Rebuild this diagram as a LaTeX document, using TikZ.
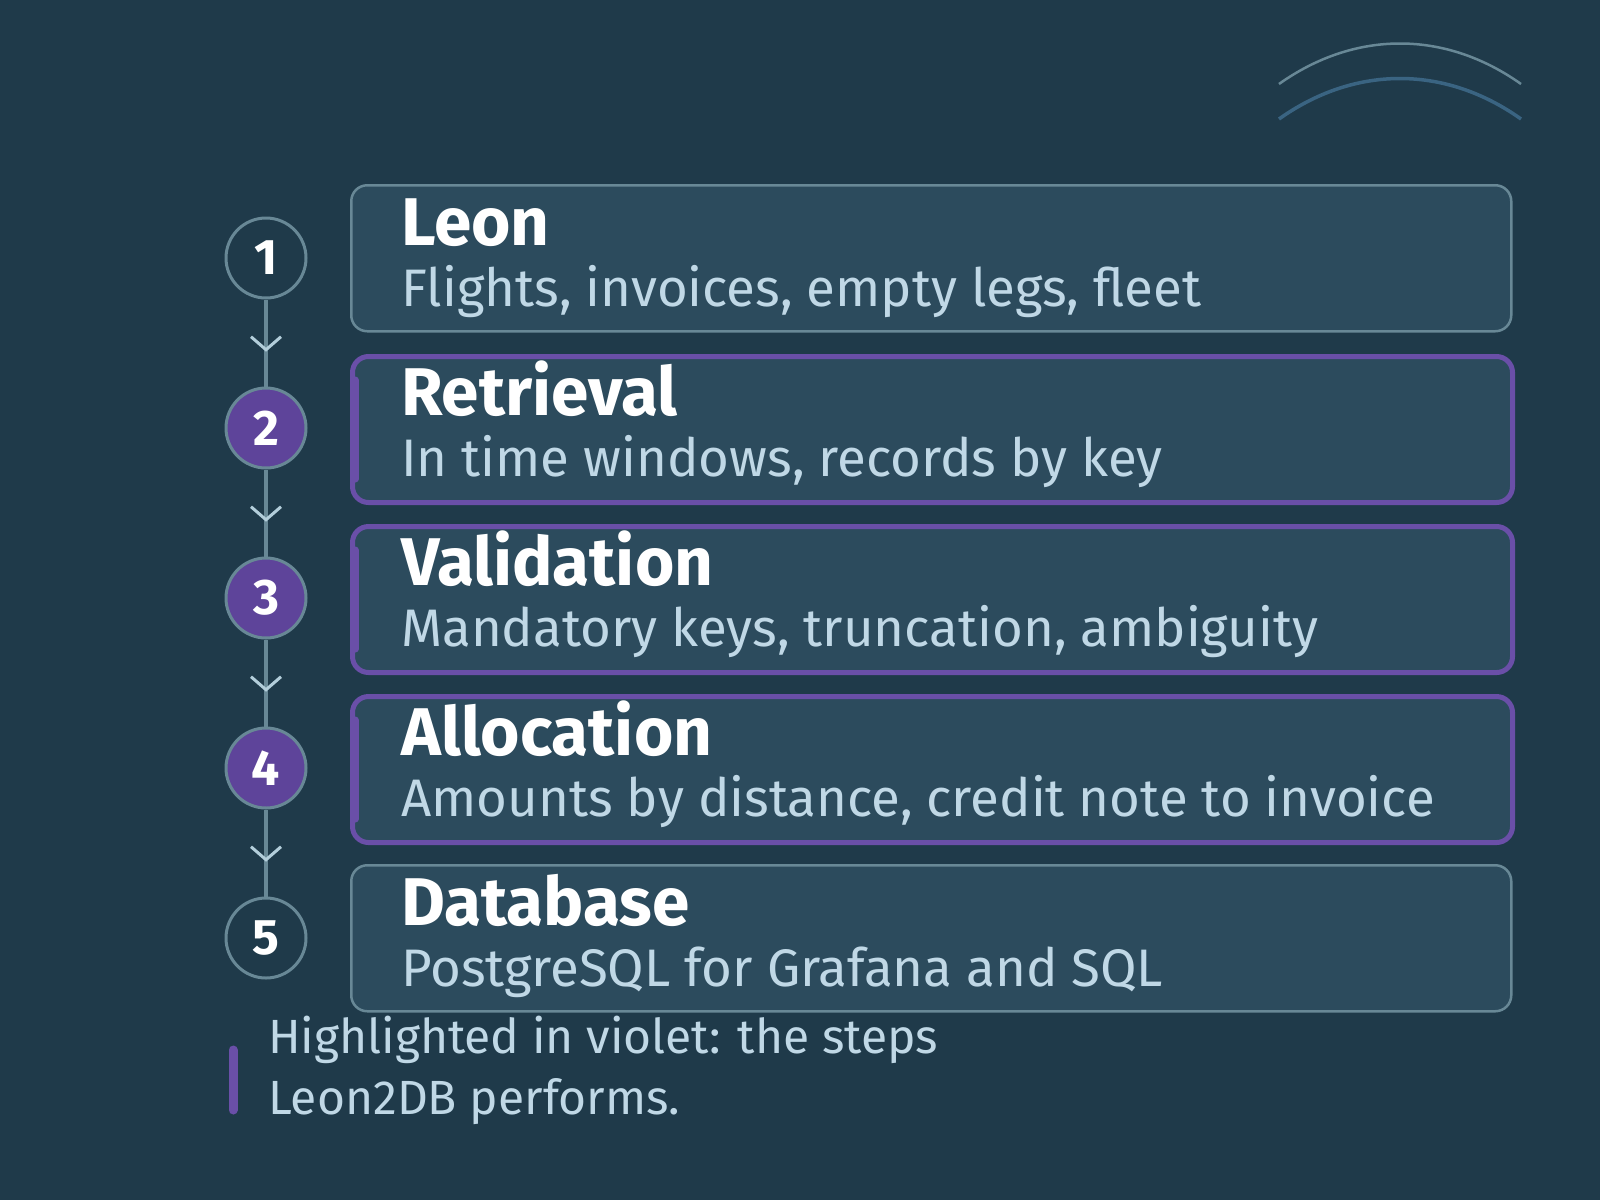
\documentclass[tikz,border=0pt]{standalone}
\usepackage{fontspec}
\setmainfont{Fira Sans}
\usepackage{tikz}
\usetikzlibrary{arrows.meta, positioning, decorations.markings}

\definecolor{bgcol}{HTML}{1F3A4A}
\definecolor{boxfill}{HTML}{2C4B5D}
\definecolor{boxline}{HTML}{688896}
\definecolor{violetline}{HTML}{6A4FA8}
\definecolor{violetfill}{HTML}{5E449A}
\definecolor{subtext}{HTML}{C0D8E6}
\definecolor{chev}{HTML}{B3CEDB}
\definecolor{arcblue}{HTML}{3A6482}

\begin{document}
\begin{tikzpicture}[
    x=1pt, y=-1pt,
    stepbox/.style={rectangle, rounded corners=16pt, draw=boxline, fill=boxfill, line width=2.5pt, minimum width=1160pt, minimum height=146pt, anchor=north west},
    ownbox/.style={stepbox, draw=violetline, line width=5pt},
    stepnum/.style={circle, draw=boxline, fill=bgcol, line width=3pt, minimum size=80pt, inner sep=0pt, text=white, font=\fontsize{50}{60}\selectfont\bfseries},
    ownnum/.style={stepnum, fill=violetfill},
    steptitle/.style={anchor=base west, inner sep=0pt, text=white, font=\fontsize{67.5}{78}\selectfont\bfseries},
    stepsub/.style={anchor=base west, inner sep=0pt, text=subtext, font=\fontsize{52.8}{64}\selectfont},
    link/.style={draw=boxline, line width=3.5pt, postaction={decorate}, decoration={markings, mark=at position 0.6 with {\arrow[chev]{Straight Barb[length=13pt, width=30pt, line width=3pt]}}}},
    accent/.style={violetline, line width=7pt, line cap=round}
]

% Background
\fill[bgcol] (0,0) rectangle (1600,1200);
\useasboundingbox (0,0) rectangle (1600,1200);

% Arcs top right
\draw[boxline, line width=2.5pt] (1279,84) .. controls (1355,30) and (1445,30) .. (1521,84);
\draw[arcblue, line width=3.5pt] (1279,119) .. controls (1355,65) and (1445,65) .. (1521,119);

% Boxes
\node[stepbox] (b1) at (350,184) {};
\node[ownbox] (b2) at (350,354) {};
\node[ownbox] (b3) at (350,524) {};
\node[ownbox] (b4) at (350,694) {};
\node[stepbox] (b5) at (350,864) {};

% Accent bars
\draw[accent] ([shift={(5,26)}]b2.north west) -- ([shift={(5,-26)}]b2.south west);
\draw[accent] ([shift={(5,26)}]b3.north west) -- ([shift={(5,-26)}]b3.south west);
\draw[accent] ([shift={(5,26)}]b4.north west) -- ([shift={(5,-26)}]b4.south west);

% Texts
\node[steptitle] (t1) at (401,245) {Leon};
\node[stepsub] (s1) at (401,306) {Flights, invoices, empty legs, fleet};
\node[steptitle] (t2) at (401,415) {Retrieval};
\node[stepsub] (s2) at (401,476) {In time windows, records by key};
\node[steptitle] (t3) at (401,585) {Validation};
\node[stepsub] (s3) at (401,646) {Mandatory keys, truncation, ambiguity};
\node[steptitle] (t4) at (401,755) {Allocation};
\node[stepsub] (s4) at (401,816) {Amounts by distance, credit note to invoice};
\node[steptitle] (t5) at (401,925) {Database};
\node[stepsub] (s5) at (401,986) {PostgreSQL for Grafana and SQL};

% Numbers
\node[stepnum] (c1) at (266,258) {1};
\node[ownnum] (c2) at (266,428) {2};
\node[ownnum] (c3) at (266,598) {3};
\node[ownnum] (c4) at (266,768) {4};
\node[stepnum] (c5) at (266,938) {5};

% Links
\path[link] (c1) -- (c2);
\path[link] (c2) -- (c3);
\path[link] (c3) -- (c4);
\path[link] (c4) -- (c5);

% Legend
\draw[violetline, line width=9pt, line cap=round] (233,1050) -- (233,1110);
\node[stepsub, font=\fontsize{48}{61}\selectfont, anchor=north west, align=left] (legend) at (268,1016) {Highlighted in violet: the steps\\Leon2DB performs.};

\end{tikzpicture}
\end{document}
